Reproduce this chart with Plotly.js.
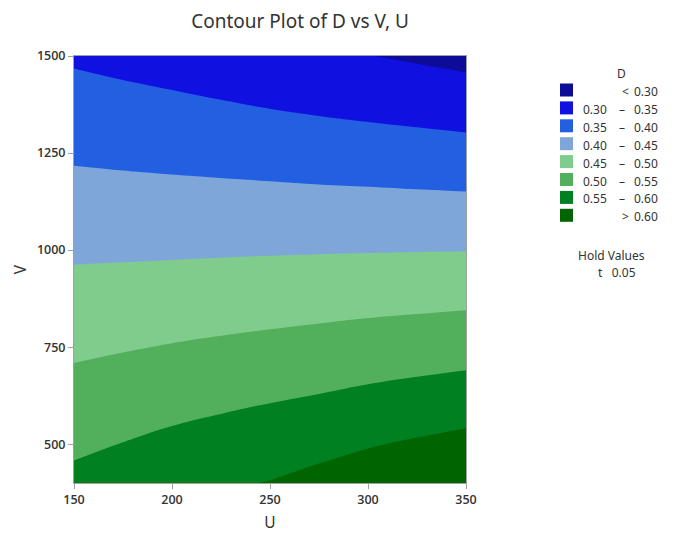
<!DOCTYPE html>
<html>
<head>
<meta charset="utf-8">
<script src="https://cdn.plot.ly/plotly-3.0.1.min.js"></script>
<style>html,body{margin:0;padding:0;background:#fff;}#chart{width:674px;height:535px;}</style>
</head>
<body>
<div id="chart"></div>
<script>
// U grid (x), V grid (y)
const U = [150, 175, 200, 225, 250, 275, 300, 325, 350];
const V = [400, 500, 600, 700, 800, 900, 1000, 1100, 1200, 1300, 1400, 1500];
// D values, one array per V row (estimated from the reference contours)
const D_V400  = [0.5616, 0.5733, 0.5854, 0.5940, 0.6018, 0.6140, 0.6243, 0.6364, 0.6473];
const D_V500  = [0.5416, 0.5511, 0.5612, 0.5695, 0.5770, 0.5860, 0.5970, 0.6055, 0.6138];
const D_V600  = [0.5217, 0.5294, 0.5374, 0.5445, 0.5515, 0.5581, 0.5657, 0.5731, 0.5802];
const D_V700  = [0.5018, 0.5078, 0.5140, 0.5197, 0.5253, 0.5305, 0.5368, 0.5417, 0.5468];
const D_V800  = [0.4820, 0.4862, 0.4907, 0.4948, 0.4989, 0.5030, 0.5074, 0.5110, 0.5147];
const D_V900  = [0.4623, 0.4647, 0.4673, 0.4699, 0.4725, 0.4750, 0.4775, 0.4799, 0.4821];
const D_V1000 = [0.4426, 0.4432, 0.4441, 0.4451, 0.4461, 0.4470, 0.4477, 0.4485, 0.4490];
const D_V1100 = [0.4230, 0.4222, 0.4215, 0.4209, 0.4202, 0.4193, 0.4186, 0.4176, 0.4166];
const D_V1200 = [0.4035, 0.4011, 0.3988, 0.3965, 0.3941, 0.3914, 0.3892, 0.3865, 0.3839];
const D_V1300 = [0.3836, 0.3796, 0.3758, 0.3716, 0.3672, 0.3629, 0.3590, 0.3550, 0.3510];
const D_V1400 = [0.3636, 0.3582, 0.3528, 0.3468, 0.3403, 0.3345, 0.3290, 0.3244, 0.3187];
const D_V1500 = [0.3436, 0.3367, 0.3297, 0.3219, 0.3134, 0.3062, 0.3010, 0.2939, 0.2865];

const xTicks = [150, 200, 250, 300, 350];
const yTicks = [500, 750, 1000, 1250, 1500];

const levelStart = 0.30, levelEnd = 0.60, levelStep = 0.05;
const bandColors = ['#0c0c98', '#1010e0', '#235fe1', '#7ea6d8', '#80cc8c', '#52b05c', '#008020', '#006400'];
const bandLabels = [['', '<', '0.30'], ['0.30', '–', '0.35'], ['0.35', '–', '0.40'], ['0.40', '–', '0.45'],
                    ['0.45', '–', '0.50'], ['0.50', '–', '0.55'], ['0.55', '–', '0.60'], ['', '>', '0.60']];

const Z = [D_V400, D_V500, D_V600, D_V700, D_V800, D_V900, D_V1000, D_V1100, D_V1200, D_V1300, D_V1400, D_V1500];
const colorscale = bandColors.map((c, i) => [i / (bandColors.length - 1), c]);

const FONT = 'Noto Sans, Open Sans, sans-serif';
const SEMI = 'Open Sans, Noto Sans, sans-serif';
const TXT = '#333333';

const trace = {
  type: 'contour',
  x: U, y: V, z: Z,
  autocontour: false,
  contours: {start: levelStart, end: levelEnd, size: levelStep, coloring: 'fill', showlines: false},
  line: {width: 0, smoothing: 1.3},
  colorscale: colorscale,
  showscale: false,
  hoverinfo: 'x+y+z'
};

// plot-area geometry for legend placement (pixels)
const L = 74, R = 466, T = 56, B = 483;
const px = x => (x - L) / (R - L);
const py = y => (B - y) / (B - T);

const shapes = [];
const annotations = [];
annotations.push({xref: 'paper', yref: 'paper', x: px(621), y: py(73), text: 'D', showarrow: false,
  xanchor: 'center', yanchor: 'middle', font: {family: FONT, size: 12, color: TXT}});
bandColors.forEach((c, i) => {
  const cy = 91.5 + i * 17.9;
  shapes.push({type: 'rect', xref: 'paper', yref: 'paper', x0: px(560), x1: px(573), y0: py(cy - 8), y1: py(cy + 5),
    fillcolor: c, line: {width: 0}});
  const lab = bandLabels[i];
  if (lab[0]) annotations.push({xref: 'paper', yref: 'paper', x: px(609), y: py(cy), text: lab[0], showarrow: false,
    xanchor: 'right', yanchor: 'middle', font: {family: FONT, size: 12, color: TXT}});
  annotations.push({xref: 'paper', yref: 'paper', x: px(lab[1] === '–' ? 622 : 625), y: py(cy), text: lab[1], showarrow: false,
    xanchor: 'center', yanchor: 'middle', font: {family: FONT, size: 12, color: TXT}});
  annotations.push({xref: 'paper', yref: 'paper', x: px(660), y: py(cy), text: lab[2], showarrow: false,
    xanchor: 'right', yanchor: 'middle', font: {family: FONT, size: 12, color: TXT}});
});
annotations.push({xref: 'paper', yref: 'paper', x: px(611), y: py(256), text: 'Hold Values', showarrow: false,
  xanchor: 'center', yanchor: 'middle', font: {family: FONT, size: 12, color: TXT}});
annotations.push({xref: 'paper', yref: 'paper', x: px(617), y: py(272), text: 't&nbsp;&nbsp;&nbsp;0.05', showarrow: false,
  xanchor: 'center', yanchor: 'middle', font: {family: FONT, size: 12, color: TXT}});

const layout = {
  width: 674, height: 535,
  margin: {l: L, r: 674 - R, t: T, b: 535 - B},
  paper_bgcolor: '#ffffff', plot_bgcolor: '#ffffff',
  title: {text: 'Contour Plot of D vs V, U', x: 300 / 674, xanchor: 'center', y: 1 - 21 / 535, yanchor: 'middle',
    font: {family: FONT, size: 19, color: '#333333'}},
  xaxis: {range: [150, 350], tickvals: xTicks, ticktext: xTicks.map(String), ticks: 'outside', ticklen: 5,
    tickcolor: '#a0a0a0', showline: true, linecolor: '#a0a0a0', linewidth: 1, mirror: true, showgrid: false, zeroline: false,
    tickfont: {family: SEMI, size: 12.5, color: TXT, weight: 600},
    title: {text: 'U', font: {family: FONT, size: 15.5, color: TXT}, standoff: 10}},
  yaxis: {range: [400, 1500], tickvals: yTicks, ticktext: yTicks.map(String), ticks: 'outside', ticklen: 5,
    tickcolor: '#a0a0a0', showline: true, linecolor: '#a0a0a0', linewidth: 1, mirror: true, showgrid: false, zeroline: false,
    tickfont: {family: SEMI, size: 12.5, color: TXT, weight: 600},
    title: {text: 'V', font: {family: FONT, size: 15.5, color: TXT}, standoff: 6}},
  shapes: shapes,
  annotations: annotations,
  showlegend: false
};

Plotly.newPlot('chart', [trace], layout, {displayModeBar: false, staticPlot: true});
</script>
</body>
</html>
